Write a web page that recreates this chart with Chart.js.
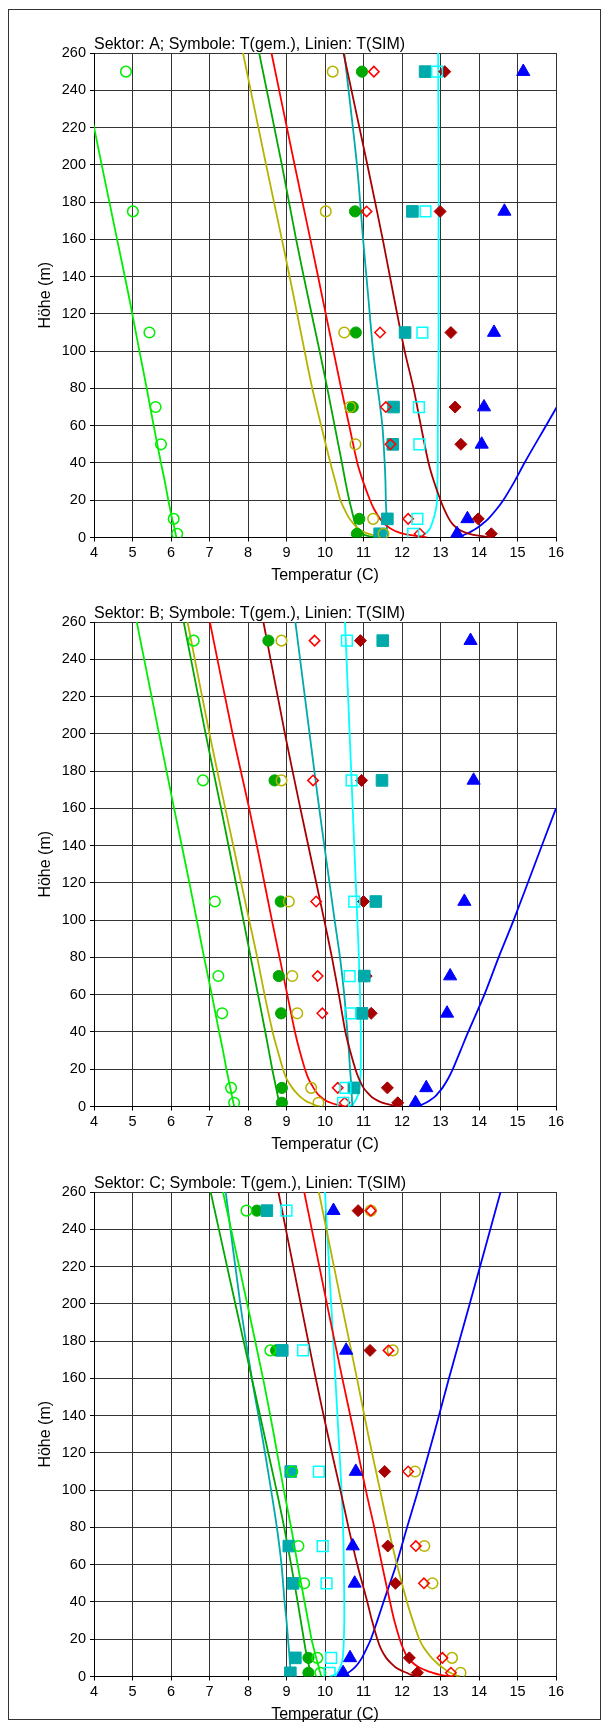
<!DOCTYPE html>
<html><head><meta charset="utf-8">
<script src="https://cdn.jsdelivr.net/npm/chart.js@4.4.1/dist/chart.umd.min.js"></script>
<style>
html,body{margin:0;padding:0;background:#fff;}
#page{position:relative;width:609px;height:1728px;overflow:hidden;background:#fff;}
#frame{position:absolute;left:8px;top:9px;width:591px;height:1709px;border:1px solid #333;}
canvas{position:absolute;left:0;}
</style></head><body>
<div id="page"><div id="frame"></div>
<canvas id="cA" width="609" height="600" style="top:0px"></canvas>
<canvas id="cB" width="609" height="600" style="top:569px"></canvas>
<canvas id="cC" width="609" height="600" style="top:1139px"></canvas>
</div>
<script>
// ---------- tick labels ----------
const xTickValues = [4,5,6,7,8,9,10,11,12,13,14,15,16];
const yTickValues = [0,20,40,60,80,100,120,140,160,180,200,220,240,260];
const panelTitles = ['Sektor: A; Symbole: T(gem.), Linien: T(SIM)',
                     'Sektor: B; Symbole: T(gem.), Linien: T(SIM)',
                     'Sektor: C; Symbole: T(gem.), Linien: T(SIM)'];
const xAxisTitle = 'Temperatur (C)';
const yAxisTitle = 'Höhe (m)';

// ---------- measured values (symbols) : heights ----------
const obsHeights = [250,175,110,70,50,10,2];
// Sektor A
const obsA_lime    = [4.83,5.01,5.44,5.60,5.74,6.07,6.16];
const obsA_olive   = [10.20,10.02,10.50,10.65,10.79,11.25,11.52];
const obsA_green   = [10.96,10.78,10.80,10.72,null,10.89,10.83];
const obsA_red     = [11.27,11.08,11.43,11.58,11.70,12.16,12.46];
const obsA_darkred = [13.11,12.99,13.27,13.38,13.53,13.98,14.32];
const obsA_teal    = [12.60,12.27,12.08,11.78,11.76,11.62,11.42];
const obsA_cyan    = [12.91,12.61,12.53,12.44,12.45,12.40,12.29];
const obsA_blue    = [15.15,14.66,14.39,14.13,14.07,13.70,13.43];
// Sektor B
const obsB_lime    = [6.59,6.83,7.14,7.23,7.33,7.56,7.64];
const obsB_olive   = [8.87,8.87,9.06,9.15,9.28,9.64,9.83];
const obsB_green   = [8.53,8.69,8.85,8.80,8.86,8.88,8.88];
const obsB_red     = [9.73,9.69,9.77,9.81,9.93,10.33,10.51];
const obsB_darkred = [10.92,10.95,11.00,11.07,11.20,11.62,11.89];
const obsB_teal    = [11.50,11.48,11.32,11.02,10.96,10.75,null];
const obsB_cyan    = [10.57,10.69,10.76,10.64,10.66,10.53,10.47];
const obsB_blue    = [13.78,13.86,13.62,13.25,13.17,12.63,12.35];
// Sektor C
const obsC_lime    = [7.96,8.58,9.15,9.31,9.46,9.80,9.88];
const obsC_olive   = [11.19,11.76,12.34,12.58,12.79,13.30,13.52];
const obsC_green   = [8.23,8.73,null,null,null,9.57,9.57];
const obsC_red     = [11.19,11.65,12.16,12.36,12.57,13.05,13.27];
const obsC_darkred = [10.86,11.17,11.55,11.63,11.83,12.19,12.40];
const obsC_teal    = [8.49,8.89,9.11,9.06,9.17,9.23,9.10];
const obsC_cyan    = [9.00,9.43,9.84,9.94,10.04,10.16,10.12];
const obsC_blue    = [10.22,10.55,10.80,10.72,10.77,10.65,10.47];

// ---------- simulated profiles (lines) : heights ----------
const simHeights = [0,0.5,1,2,3,5,7,10,15,20,30,40,60,80,100,130,160,200,260];
// Sektor A
const simA_lime    = [6.14,6.135,6.13,6.12,6.11,6.09,6.07,6.03,5.98,5.93,5.84,5.74,5.55,5.37,5.18,4.90,4.60,4.20,3.61];
const simA_olive   = [11.62,11.45,11.32,11.14,11.00,10.85,10.76,10.64,10.51,10.40,10.27,10.14,9.90,9.67,9.47,9.18,8.88,8.47,7.87];
const simA_green   = [11.40,11.20,11.08,10.96,10.89,10.83,10.79,10.75,10.69,10.63,10.53,10.44,10.25,10.06,9.86,9.55,9.25,8.88,8.29];
const simA_red     = [12.65,12.50,12.32,12.05,11.88,11.69,11.56,11.43,11.28,11.17,10.99,10.84,10.63,10.42,10.22,9.92,9.62,9.21,8.61];
const simA_darkred = [14.35,14.15,13.98,13.75,13.60,13.43,13.32,13.22,13.10,13.00,12.83,12.69,12.49,12.30,12.07,11.78,11.50,11.10,10.48];
const simA_teal    = [11.63,11.62,11.62,11.61,11.61,11.61,11.60,11.60,11.59,11.58,11.57,11.55,11.49,11.37,11.25,11.12,10.99,10.83,10.50];
const simA_cyan    = [12.40,12.47,12.52,12.60,12.66,12.73,12.77,12.82,12.88,12.91,12.92,12.93,12.93,12.94,12.95,12.95,12.95,12.95,12.94];
const simA_blue    = [13.43,13.50,13.57,13.68,13.78,13.94,14.07,14.24,14.45,14.63,14.92,15.18,15.74,16.30,null,null,null,null,null];
// Sektor B
const simB_lime    = [7.64,7.64,7.63,7.62,7.61,7.59,7.57,7.54,7.49,7.44,7.35,7.25,7.06,6.86,6.67,6.38,6.08,5.69,5.11];
const simB_olive   = [9.87,9.77,9.71,9.60,9.50,9.37,9.27,9.15,9.00,8.91,8.77,8.64,8.43,8.24,8.03,7.72,7.41,7.00,6.43];
const simB_green   = [8.86,8.84,8.83,8.81,8.80,8.78,8.76,8.73,8.68,8.63,8.54,8.45,8.26,8.07,7.88,7.59,7.30,6.90,6.33];
const simB_red     = [10.53,10.40,10.30,10.15,10.04,9.90,9.80,9.70,9.57,9.48,9.34,9.22,9.02,8.82,8.62,8.33,8.03,7.60,7.01];
const simB_darkred = [11.96,11.80,11.68,11.50,11.38,11.22,11.12,11.00,10.88,10.79,10.65,10.53,10.36,10.18,9.98,9.67,9.36,8.96,8.40];
const simB_teal    = [10.72,10.72,10.71,10.71,10.70,10.70,10.69,10.68,10.67,10.65,10.62,10.58,10.50,10.39,10.25,10.05,9.85,9.60,9.23];
const simB_cyan    = [10.60,10.66,10.70,10.75,10.79,10.83,10.87,10.90,10.92,10.93,10.93,10.93,10.91,10.88,10.84,10.78,10.72,10.64,10.52];
const simB_blue    = [12.36,12.45,12.52,12.62,12.70,12.84,12.93,13.05,13.20,13.32,13.52,13.72,14.14,14.51,14.90,15.45,16.00,16.75,null];
// Sektor C
const simC_lime    = [9.91,9.90,9.89,9.88,9.86,9.84,9.81,9.77,9.71,9.65,9.56,9.47,9.29,9.12,8.93,8.67,8.39,7.98,7.35];
const simC_olive   = [13.52,13.42,13.36,13.26,13.17,13.04,12.92,12.77,12.58,12.45,12.28,12.13,11.87,11.64,11.43,11.12,10.83,10.43,9.84];
const simC_green   = [9.65,9.64,9.63,9.62,9.61,9.59,9.57,9.54,9.49,9.45,9.37,9.29,9.12,8.94,8.74,8.42,8.10,7.67,7.03];
const simC_red     = [13.35,13.10,12.97,12.80,12.65,12.44,12.30,12.15,12.03,11.94,11.80,11.69,11.48,11.28,11.06,10.76,10.45,10.05,9.46];
const simC_darkred = [12.48,12.32,12.22,12.12,12.00,11.83,11.72,11.59,11.45,11.36,11.22,11.10,10.84,10.61,10.40,10.07,9.76,9.37,8.79];
const simC_teal    = [9.12,9.12,9.12,9.11,9.11,9.10,9.09,9.08,9.06,9.04,9.00,8.95,8.87,8.75,8.60,8.36,8.10,7.80,7.42];
const simC_cyan    = [10.12,10.20,10.26,10.32,10.35,10.39,10.43,10.46,10.48,10.49,10.50,10.50,10.49,10.47,10.43,10.35,10.27,10.16,10.00];
const simC_blue    = [10.43,10.48,10.53,10.60,10.67,10.78,10.86,10.96,11.08,11.19,11.36,11.52,11.85,12.13,12.42,12.83,13.22,13.76,14.56];

// ---------- styles ----------
const seriesKeys = ['lime','olive','green','red','darkred','teal','cyan','blue'];
const seriesColor = {lime:'#00ee00', olive:'#b4b400', green:'#00a800', red:'#ff0000',
                     darkred:'#a80000', teal:'#00aaaa', cyan:'#00ffff', blue:'#0000ff'};
const seriesSymbol = {
  lime:{style:'circle',r:5.3,fill:false}, olive:{style:'circle',r:5.3,fill:false},
  green:{style:'circle',r:5.6,fill:true}, red:{style:'rectRot',r:5.2,fill:false},
  darkred:{style:'rectRot',r:6,fill:true}, teal:{style:'rect',r:8.2,fill:true},
  cyan:{style:'rect',r:7.6,fill:false}, blue:{style:'triangle',r:7.6,fill:true}};

const panels = [
  {canvas:'cA', title:panelTitles[0],
   obs:{lime:obsA_lime,olive:obsA_olive,green:obsA_green,red:obsA_red,darkred:obsA_darkred,teal:obsA_teal,cyan:obsA_cyan,blue:obsA_blue},
   sim:{lime:simA_lime,olive:simA_olive,green:simA_green,red:simA_red,darkred:simA_darkred,teal:simA_teal,cyan:simA_cyan,blue:simA_blue}},
  {canvas:'cB', title:panelTitles[1],
   obs:{lime:obsB_lime,olive:obsB_olive,green:obsB_green,red:obsB_red,darkred:obsB_darkred,teal:obsB_teal,cyan:obsB_cyan,blue:obsB_blue},
   sim:{lime:simB_lime,olive:simB_olive,green:simB_green,red:simB_red,darkred:simB_darkred,teal:simB_teal,cyan:simB_cyan,blue:simB_blue}},
  {canvas:'cC', title:panelTitles[2],
   obs:{lime:obsC_lime,olive:obsC_olive,green:obsC_green,red:obsC_red,darkred:obsC_darkred,teal:obsC_teal,cyan:obsC_cyan,blue:obsC_blue},
   sim:{lime:simC_lime,olive:simC_olive,green:simC_green,red:simC_red,darkred:simC_darkred,teal:simC_teal,cyan:simC_cyan,blue:simC_blue}}
];

const FONT = "'Liberation Sans', Arial, Helvetica, sans-serif";
Chart.defaults.font.family = FONT;
Chart.defaults.color = '#000';

const panelTitlePlugin = {
  id:'panelTitle',
  afterDraw(chart, args, opts){
    const {ctx, chartArea} = chart;
    ctx.save();
    ctx.font = '16px ' + FONT;
    ctx.fillStyle = '#000';
    ctx.textAlign = 'left';
    ctx.textBaseline = 'alphabetic';
    ctx.fillText(opts.text, chartArea.left, chartArea.top - 4.5);
    ctx.restore();
  }
};

function buildDatasets(p){
  const ds = [];
  // open symbols on top, then filled symbols, then lines at bottom
  const symOrder = ['cyan','red','olive','lime','blue','teal','darkred','green'];
  symOrder.forEach((k, i) => {
    const s = seriesSymbol[k], c = seriesColor[k];
    ds.push({
      label:'T(gem.) '+k, showLine:false,
      data: obsHeights.map((h,j)=>({x:p.obs[k][j], y:h})).filter(d=>d.x!==null),
      pointStyle:s.style, pointRadius:s.r, pointHoverRadius:s.r,
      pointBorderWidth: s.fill ? 1 : 1.5,
      pointBorderColor:c, pointBackgroundColor: s.fill ? c : 'rgba(0,0,0,0)',
      order:i
    });
  });
  seriesKeys.forEach((k, i) => {
    ds.push({
      label:'T(SIM) '+k, showLine:true,
      data: simHeights.map((h,j)=>({x:p.sim[k][j], y:h})).filter(d=>d.x!==null),
      borderColor:seriesColor[k], borderWidth:1.8, pointRadius:0, pointHoverRadius:0,
      tension:0.3, fill:false, order:20+i
    });
  });
  return ds;
}

panels.forEach(p => {
  new Chart(document.getElementById(p.canvas), {
    type:'scatter',
    data:{datasets:buildDatasets(p)},
    plugins:[panelTitlePlugin],
    options:{
      responsive:false, animation:false, devicePixelRatio:1,
      layout:{padding:{top:53, left:0, right:53, bottom:0}},
      plugins:{legend:{display:false}, tooltip:{enabled:false}, panelTitle:{text:p.title}},
      scales:{
        x:{type:'linear', min:4, max:16,
           afterBuildTicks:(s)=>{ s.ticks = xTickValues.map(v=>({value:v})); },
           afterFit:(s)=>{ s.height = 62.5; },
           ticks:{font:{size:14.5}, color:'#000', padding:3, autoSkip:false, maxRotation:0},
           grid:{color:'#333', lineWidth:1, drawTicks:true, tickLength:4, tickColor:'#000'},
           border:{color:'#000', width:1},
           title:{display:true, text:xAxisTitle, font:{size:16}, color:'#000', padding:{top:0,bottom:15}}},
        y:{type:'linear', min:0, max:260,
           afterBuildTicks:(s)=>{ s.ticks = yTickValues.map(v=>({value:v})); },
           afterFit:(s)=>{ s.width = 94; },
           ticks:{font:{size:14.5}, color:'#000', padding:4, autoSkip:false},
           grid:{color:'#333', lineWidth:1, drawTicks:true, tickLength:4, tickColor:'#000'},
           border:{color:'#000', width:1},
           title:{display:true, text:yAxisTitle, font:{size:16}, color:'#000', padding:{top:36.4,bottom:0}}}
      }
    }
  });
});
</script>
</body></html>
